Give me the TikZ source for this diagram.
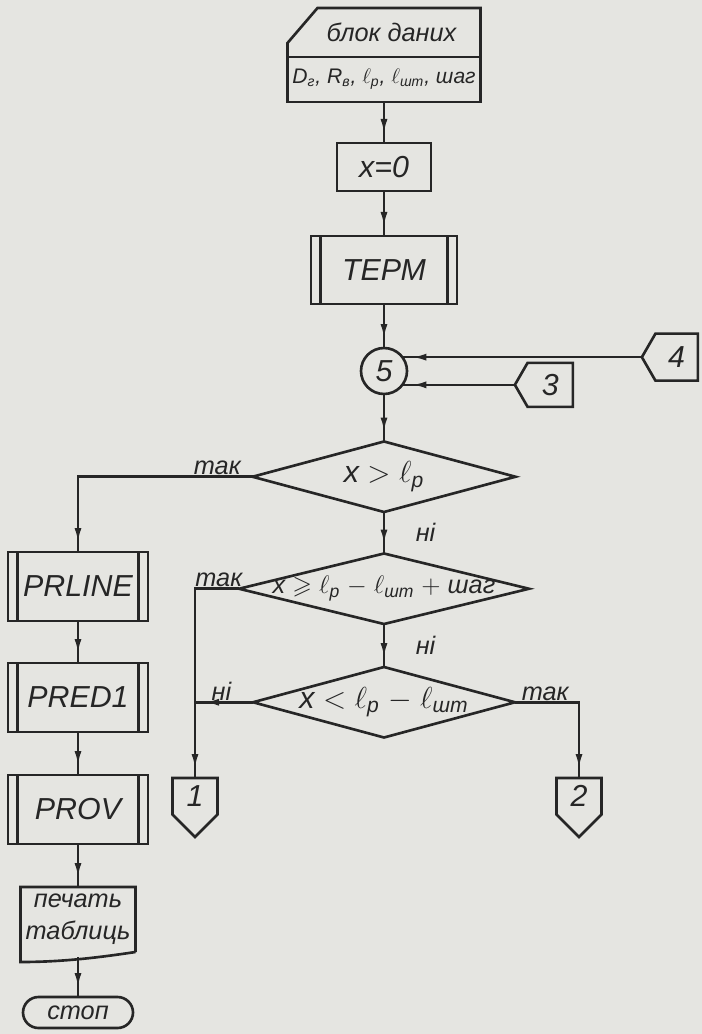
\documentclass[tikz,border=0pt]{standalone}
\usepackage{amsmath,amssymb}
\usepackage{fontspec}
\setmainfont{Liberation Sans}
\usetikzlibrary{arrows.meta,positioning,shapes.geometric,shapes.symbols,decorations.markings}

\definecolor{paper}{RGB}{229,229,225}
\definecolor{ink}{RGB}{38,38,38}
\newcommand{\ellsub}[1]{$\ell$\textsubscript{#1}}

\begin{document}
\begin{tikzpicture}[color=ink, line width=1.5pt,
    every node/.style={font=\itshape\Large, outer sep=0pt},
    every label/.append style={font=\itshape\LARGE},
    box/.style={draw, rectangle, inner sep=0pt},
    subproc/.style={box, minimum width=2.8cm, minimum height=1.38cm, font=\itshape\LARGE},
    decision/.style={draw, diamond, inner sep=0pt, minimum height=1.41cm},
    offpage/.style={draw, signal, inner sep=0pt, font=\itshape\LARGE},
    answer/.style={inner sep=1pt},
    arr/.style={postaction={decorate}, decoration={markings,
      mark=at position -0.18cm with {\arrow{Latex[length=3mm,width=1.4mm]}}}}]
    \fill[paper] (0,0) rectangle (14.04,-20.68);
    \useasboundingbox (0,0) rectangle (14.04,-20.68);

    % main column
    \node[box, minimum width=3.86cm, minimum height=0.9cm, font=\itshape\large] (dlist) at (7.68,-1.59) {D\textsubscript{г}, R\textsubscript{в}, \ellsub{р}, \ellsub{шт}, шаг};
    \node[minimum width=3.86cm, minimum height=0.98cm, inner sep=0pt, above=0pt of dlist] (dtitle) {\hspace{0.3cm}блок даних};
    \draw (dtitle.south west) -- ++(0,0.28) -- ([xshift=0.6cm]dtitle.north west) -- (dtitle.north east) -- (dtitle.south east);
    \node[box, minimum width=1.88cm, minimum height=0.96cm, below=0.82cm of dlist, font=\itshape\LARGE] (xzero) {x=0};
    \node[subproc, minimum width=2.92cm, minimum height=1.36cm, below=0.9cm of xzero] (term) {ТЕРМ};
    \node[draw, circle, minimum size=0.92cm, inner sep=0pt, below=0.88cm of term, font=\itshape\LARGE] (c5) {5};
    \node[decision, minimum width=5.26cm, below=0.95cm of c5, label=center:{x $>$ \ellsub{р}}] (d1) {};
    \node[decision, minimum width=5.8cm, below=0.83cm of d1, label={[font=\itshape\Large]center:{x $\geqslant$ \ellsub{р} $-$ \ellsub{шт} $+$ шаг}}] (d2) {};
    \node[decision, minimum width=5.24cm, below=0.86cm of d2, label=center:{x $<$ \ellsub{р} $-$ \ellsub{шт}}] (d3) {};

    % connectors
    \node[offpage, signal to=west, signal pointer angle=120, minimum width=1.16cm, minimum height=0.88cm, anchor=west] (con3) at ([xshift=2.25cm]c5.-37.5) {3};
    \node[offpage, signal to=west, signal pointer angle=120, minimum width=1.12cm, minimum height=0.94cm, anchor=west] (con4) at ([xshift=4.79cm]c5.37.5) {4};
    \node[offpage, signal to=south, signal pointer angle=90, minimum width=0.9cm, minimum height=0.9cm, anchor=north] (con1) at (3.9,-15.56) {1};
    \node[offpage, signal to=south, signal pointer angle=90, minimum width=0.9cm, minimum height=0.9cm, anchor=north] (con2) at (11.58,-15.56) {2};

    % left column
    \node[subproc] (prline) at (1.56,-11.73) {PRLINE};
    \node[subproc, below=0.84cm of prline] (pred1) {PRED1};
    \node[subproc, below=0.86cm of pred1] (prov) {PROV};
    \node[minimum width=2.3cm, minimum height=1.3cm, inner sep=0pt, below=0.86cm of prov, align=center] (prt) {печать\\таблиць};
    \draw (prt.south east) -- (prt.north east) -- (prt.north west) -- ([yshift=-0.2cm]prt.south west) .. controls +(0.8,0) and +(-0.8,-0.12) .. (prt.south east);
    \node[draw, rounded corners=0.31cm, minimum width=2.2cm, minimum height=0.62cm, inner sep=0pt, below=0.9cm of prt] (stop) {стоп};

    \foreach \n in {term,prline,pred1,prov} {
      \draw ([xshift=0.19cm]\n.north west) -- ([xshift=0.19cm]\n.south west);
      \draw ([xshift=-0.19cm]\n.north east) -- ([xshift=-0.19cm]\n.south east);
    }

    \draw[arr] (dlist) -- (xzero);
    \draw[arr] (xzero) -- (term);
    \draw[arr] (term) -- (c5);
    \draw[arr] (c5) -- (d1);
    \draw[arr] (con3.west) -- (c5.-37.5);
    \draw[arr] (con4.west) -- (c5.37.5);
    \draw[arr] (d1) -- node[answer, right=0.6cm] {ні} (d2);
    \draw[arr] (d2) -- node[answer, right=0.6cm] {ні} (d3);
    \draw[arr] (d1.west) node[answer, above left, xshift=-0.2cm] {так} -| (prline);
    \draw[arr] (d2.west) node[answer, above left, xshift=0.1cm] {так} -| (con1);
    \draw[arr] (d3.west) node[answer, above left, xshift=-0.4cm] {ні} -- (d3.west -| con1);
    \draw[arr] (d3.east) node[answer, above right, xshift=0.1cm] {так} -| (con2);
    \draw[arr] (prline) -- (pred1);
    \draw[arr] (pred1) -- (prov);
    \draw[arr] (prov) -- (prt);
    \draw[arr] ([yshift=-0.1cm]prt.south) -- (stop);
  \end{tikzpicture}
\end{document}
